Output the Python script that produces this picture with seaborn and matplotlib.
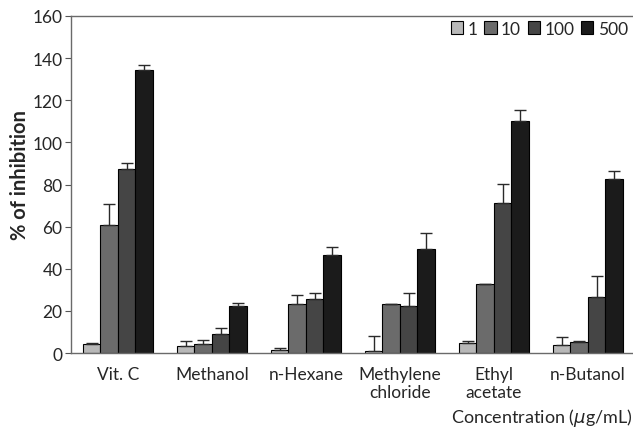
import numpy as np
import pandas as pd
import matplotlib
matplotlib.use("Agg")
import matplotlib.pyplot as plt
import seaborn as sns

categories = ["Vit. C", "Methanol", "n-Hexane", "Methylene\nchloride", "Ethyl\nacetate", "n-Butanol"]
concentrations = ["1", "10", "100", "500"]

vals_1 = [4.3, 3.5, 1.3, 1.1, 4.7, 3.8]
vals_10 = [60.6, 4.3, 23.1, 23.4, 32.6, 5.4]
vals_100 = [87.5, 9.2, 25.5, 22.3, 71.2, 26.7]
vals_500 = [134.2, 22.3, 46.4, 49.5, 110.0, 82.8]

err_1 = [0.4, 2.4, 0.9, 6.8, 1.2, 3.6]
err_10 = [10.1, 2.0, 4.7, 0.0, 0.3, 0.5]
err_100 = [2.7, 2.7, 2.8, 6.0, 8.9, 9.9]
err_500 = [2.7, 1.3, 3.8, 7.6, 5.3, 3.6]

colors = ["#b8b8b8", "#6b6b6b", "#454545", "#1b1b1b"]

sns.set_style("white")
plt.rcParams["font.family"] = ["Lato", "DejaVu Sans"]
plt.rcParams["mathtext.fontset"] = "dejavusans"

vals = [vals_1, vals_10, vals_100, vals_500]
errs = [err_1, err_10, err_100, err_500]
rows = []
for c, v, e in zip(concentrations, vals, errs):
    for cat, vv, ee in zip(categories, v, e):
        rows.append({"cat": cat, "conc": c, "val": vv, "err": ee})
df = pd.DataFrame(rows)

fig = plt.figure(figsize=(6.33, 4.35), dpi=100)
ax = fig.add_axes([0.112, 0.186, 0.891, 0.775])

sns.barplot(data=df, x="cat", y="val", hue="conc", hue_order=concentrations,
            order=categories, palette=colors, edgecolor="black", linewidth=0.8,
            width=0.745, errorbar=None, ax=ax)

# error bars (upper only) on bar positions from the library
for i, c in enumerate(concentrations):
    sub = df[df["conc"] == c]
    cont = ax.containers[i]
    xs = [b.get_x() + b.get_width() / 2 for b in cont]
    ys = [b.get_height() for b in cont]
    ax.errorbar(xs, ys, yerr=[np.zeros(len(ys)), sub["err"].values], fmt="none",
                ecolor="#2a2a2a", elinewidth=1.0, capsize=4, capthick=1.0, zorder=3)

ax.set_ylim(0, 160)
ax.set_yticks(range(0, 161, 20))
ax.set_xlim(-0.5, 5.5)
ax.set_xlabel("")
ax.set_ylabel("% of inhibition", fontsize=14.5, fontweight="bold", labelpad=3)
ax.yaxis.set_label_coords(-0.072, 0.53)
ax.tick_params(axis="y", which="both", direction="out", length=4, width=0.8,
               color="#555555", labelsize=12.5, pad=2, left=True)
ax.tick_params(axis="x", length=0, labelsize=12.5, pad=9)
for s in ["left", "bottom", "top"]:
    ax.spines[s].set_color("#6a6a6a")
    ax.spines[s].set_linewidth(1.0)
ax.spines["right"].set_visible(False)

leg = ax.legend(loc="upper right", ncol=4, frameon=False, fontsize=12.5,
                handlelength=0.7, handleheight=0.7, handletextpad=0.25,
                columnspacing=0.4, bbox_to_anchor=(1.003, 1.012), borderaxespad=0.1)

fig.text(1.0, 0.038, "Concentration ($\\mu$g/mL)", ha="right", va="center", fontsize=13)

fig.savefig("out.png", dpi=100)
